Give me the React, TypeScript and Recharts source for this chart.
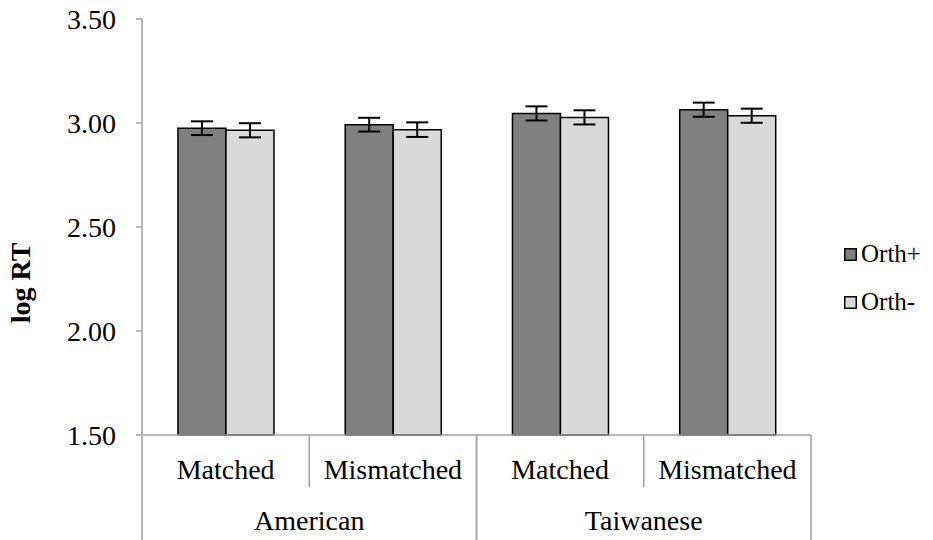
import { BarChart, Bar, XAxis, YAxis, Legend, ErrorBar, Label } from 'recharts';

// ---- data ----
const conditions = ['Matched', 'Mismatched', 'Matched', 'Mismatched'];
const groups = ['American', 'Taiwanese'];
const orthPlus = [2.975, 2.992, 3.046, 3.064];
const orthPlusErr = [0.033, 0.033, 0.034, 0.034];
const orthMinus = [2.965, 2.968, 3.027, 3.035];
const orthMinusErr = [0.034, 0.035, 0.034, 0.034];
const yTicks = [1.5, 2, 2.5, 3, 3.5];
const seriesNames = ['Orth+', 'Orth-'];

const data = conditions.map((c, i) => ({
  id: `${groups[Math.floor(i / 2)]}-${c}`,
  orthPlus: orthPlus[i],
  orthPlusErr: orthPlusErr[i],
  orthMinus: orthMinus[i],
  orthMinusErr: orthMinusErr[i],
}));

// ---- layout / style ----
const W = 933;
const H = 540;
const MARGIN = { top: 19, right: 122, bottom: 0, left: 62 };
const Y_AXIS_W = 80;
const X_AXIS_H = 105;
const PLOT_W = W - MARGIN.left - MARGIN.right - Y_AXIS_W;
const BAND = PLOT_W / conditions.length;
const AXIS = '#a0a0a0';
const FONT = "'Liberation Serif', 'Times New Roman', Times, 'DejaVu Serif', serif";
const DARK = '#808080';
const LIGHT = '#d9d9d9';

function CategoryTick(props: any) {
  const { x, y, payload, index } = props;
  const i = payload?.index ?? index;
  const half = payload?.offset ? payload.offset : BAND / 2;
  const left = x - half;
  const right = x + half;
  const first = i % 2 === 0;
  return (
    <g>
      <text x={x} y={y + 44} textAnchor="middle" fill="#000" style={{ fontFamily: FONT, fontSize: 28 }}>
        {conditions[i]}
      </text>
      {first && <line x1={left} y1={y} x2={left} y2={y + X_AXIS_H} stroke={AXIS} strokeWidth={1.5} />}
      {first && <line x1={right} y1={y} x2={right} y2={y + 52} stroke={AXIS} strokeWidth={1.5} />}
      {!first && <line x1={right} y1={y} x2={right} y2={y + X_AXIS_H} stroke={AXIS} strokeWidth={1.5} />}
      {first && (
        <text x={right} y={y + 95} textAnchor="middle" fill="#000" style={{ fontFamily: FONT, fontSize: 28 }}>
          {groups[i / 2]}
        </text>
      )}
    </g>
  );
}

function YTick(props: any) {
  const { x, y, payload } = props;
  return (
    <text x={x} y={y} dy="0.35em" textAnchor="end" fill="#000" style={{ fontFamily: FONT, fontSize: 28 }}>
      {Number(payload.value).toFixed(2)}
    </text>
  );
}

function LegendBox() {
  const colors = [DARK, LIGHT];
  return (
    <div style={{ fontFamily: FONT, fontSize: 25, color: '#000' }}>
      {seriesNames.map((n, k) => (
        <div key={n} style={{ display: 'flex', alignItems: 'center', height: 48 }}>
          <svg width={13} height={13} style={{ marginRight: 4 }}>
            <rect x={0.75} y={0.75} width={11.5} height={11.5} fill={colors[k]} stroke="#000" strokeWidth={1.5} />
          </svg>
          <span>{n}</span>
        </div>
      ))}
    </div>
  );
}

export default function App() {
  return (
    <div style={{ position: 'absolute', left: 0, top: 0, width: W, height: H, background: '#fff', fontFamily: FONT }}>
      <BarChart width={W} height={H} data={data} margin={MARGIN} barCategoryGap="21.5%" barGap={0} style={{ fontFamily: FONT }}>
        <XAxis
          dataKey="id"
          height={X_AXIS_H}
          axisLine={{ stroke: AXIS, strokeWidth: 1.5 }}
          tickLine={false}
          tickSize={0}
          tickMargin={0}
          interval={0}
          tick={<CategoryTick />}
        />
        <YAxis
          width={Y_AXIS_W}
          domain={[1.5, 3.5]}
          ticks={yTicks}
          interval={0}
          axisLine={{ stroke: AXIS, strokeWidth: 1.5 }}
          tickLine={{ stroke: AXIS, strokeWidth: 1.5 }}
          tickSize={6}
          tickMargin={20}
          tick={<YTick />}
        >
          <Label
            content={() => (
              <text
                transform="translate(30, 283) rotate(-90)"
                textAnchor="middle"
                fill="#000"
                style={{ fontFamily: FONT, fontSize: 28, fontWeight: 'bold' }}
              >
                log RT
              </text>
            )}
          />
        </YAxis>
        <Legend
          layout="vertical"
          align="center"
          verticalAlign="middle"
          wrapperStyle={{ left: 844, top: 230, width: 90 }}
          content={<LegendBox />}
        />
        <Bar dataKey="orthPlus" name="Orth+" fill={DARK} stroke="#000" strokeWidth={1.5} isAnimationActive={false}>
          <ErrorBar dataKey="orthPlusErr" width={11} stroke="#000" strokeWidth={2} direction="y" isAnimationActive={false} />
        </Bar>
        <Bar dataKey="orthMinus" name="Orth-" fill={LIGHT} stroke="#000" strokeWidth={1.5} isAnimationActive={false}>
          <ErrorBar dataKey="orthMinusErr" width={11} stroke="#000" strokeWidth={2} direction="y" isAnimationActive={false} />
        </Bar>
      </BarChart>
    </div>
  );
}
